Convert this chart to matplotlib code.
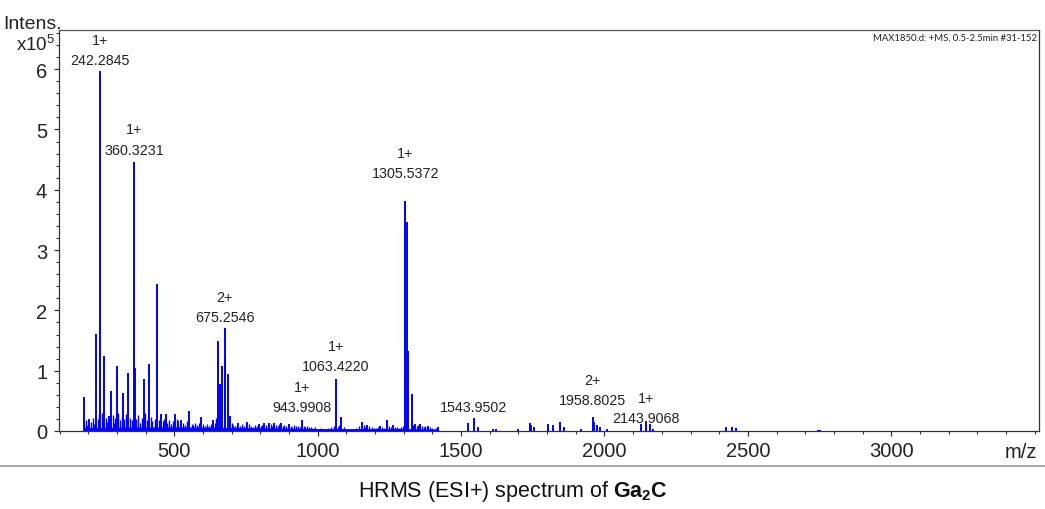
#!/usr/bin/env python

import matplotlib
matplotlib.use('Agg')
import matplotlib.pyplot as plt
from matplotlib.lines import Line2D
from matplotlib.ticker import MultipleLocator

plt.rcParams['font.family'] = ['Liberation Sans', 'DejaVu Sans']
plt.rcParams['mathtext.fontset'] = 'custom'
plt.rcParams['mathtext.rm'] = 'Liberation Sans'
plt.rcParams['mathtext.bf'] = 'Liberation Sans:bold'

# main peaks: m/z and intensity (x10^5)
peak_mz = [185, 204, 227, 242.2845, 256, 271, 279, 300, 321, 340, 360.3231, 363,
           394, 412, 439, 453, 470, 502, 514, 525, 552, 593, 636, 653, 659, 666,
           675.2546, 678, 686, 693, 723, 755, 795, 813, 830, 848, 871, 900,
           943.9908, 1063.4220, 1083, 1153, 1173, 1217, 1243, 1262,
           1305.5372, 1310, 1316, 1328, 1339, 1356, 1386, 1420,
           1525, 1543.9502, 1560, 1612, 1620, 1700, 1740, 1745, 1755, 1804, 1821,
           1845, 1859, 1917, 1958.8025, 1965, 1973, 1985, 2008, 2126, 2143.9068,
           2158, 2168, 2422, 2445, 2459, 2744, 2750]
peak_int = [0.56, 0.20, 1.61, 5.97, 1.24, 0.25, 0.66, 1.07, 0.63, 0.96, 4.46, 1.04,
            0.86, 1.11, 2.44, 0.28, 0.28, 0.29, 0.17, 0.19, 0.33, 0.23, 0.19, 1.49, 0.78, 1.08,
            1.70, 1.22, 0.95, 0.25, 0.14, 0.15, 0.11, 0.13, 0.13, 0.14, 0.13, 0.11,
            0.19, 0.87, 0.24, 0.15, 0.10, 0.08, 0.18, 0.10,
            3.81, 3.46, 1.33, 0.61, 0.12, 0.12, 0.08, 0.06,
            0.13, 0.21, 0.07, 0.04, 0.04, 0.04, 0.13, 0.10, 0.06, 0.11, 0.10,
            0.15, 0.06, 0.04, 0.24, 0.15, 0.10, 0.06, 0.03, 0.11, 0.17,
            0.11, 0.04, 0.06, 0.07, 0.05, 0.02, 0.02]

# low-level noise spikes
grass_mz = [186, 192, 197, 211, 216, 221, 233, 237, 249, 252, 262, 266, 274, 285, 290,
            295, 305, 310, 316, 326, 331, 336, 345, 352, 368, 374, 380, 386, 399, 404,
            418, 424, 431, 446, 459, 464, 476, 482, 489, 495, 508, 520, 531, 538, 545,
            560, 566, 573, 580, 587, 600, 607, 614, 622, 629, 643, 647, 700, 706, 712,
            717, 730, 737, 743, 749, 762, 768, 775, 782, 788, 801, 807, 820, 826, 837,
            842, 855, 861, 866, 878, 884, 890, 906, 912, 918, 925, 931, 937, 951, 957,
            963, 970, 977, 985, 992, 1005, 1012, 1022, 1035, 1048, 1056, 1070, 1076,
            1092, 1100, 1120, 1135, 1145, 1160, 1166, 1180, 1188, 1196, 1205, 1211,
            1224, 1230, 1250, 1256, 1270, 1277, 1284, 1292, 1298, 1334, 1346, 1351,
            1362, 1369, 1375, 1381, 1392, 1399, 1406, 1413]
grass_int = [0.12, 0.18, 0.10, 0.15, 0.22, 0.12, 0.20, 0.28, 0.30, 0.18, 0.22, 0.15, 0.20, 0.26, 0.14,
             0.22, 0.30, 0.18, 0.24, 0.20, 0.28, 0.16, 0.22, 0.18, 0.20, 0.26, 0.14, 0.22, 0.30, 0.18,
             0.24, 0.16, 0.20, 0.18, 0.16, 0.20, 0.14, 0.18, 0.12, 0.16, 0.20, 0.12, 0.14, 0.10, 0.16,
             0.12, 0.10, 0.14, 0.10, 0.13, 0.12, 0.09, 0.11, 0.09, 0.12, 0.14, 0.22, 0.14, 0.10, 0.08,
             0.10, 0.09, 0.12, 0.08, 0.10, 0.11, 0.08, 0.07, 0.10, 0.08, 0.09, 0.10, 0.10, 0.08, 0.11,
             0.09, 0.10, 0.08, 0.11, 0.09, 0.10, 0.08, 0.09, 0.07, 0.10, 0.08, 0.09, 0.07, 0.08, 0.07,
             0.09, 0.06, 0.07, 0.05, 0.06, 0.04, 0.05, 0.04, 0.05, 0.06, 0.08, 0.07, 0.10,
             0.06, 0.04, 0.04, 0.05, 0.08, 0.10, 0.07, 0.08, 0.06, 0.05, 0.05, 0.07,
             0.06, 0.05, 0.08, 0.06, 0.07, 0.06, 0.05, 0.06, 0.08, 0.10, 0.09, 0.10,
             0.08, 0.07, 0.09, 0.06, 0.07, 0.05, 0.04, 0.05]

# dense baseline band
band_mz = [182, 186, 500, 700, 1000, 1300, 1420, 1425]
band_int = [0.0, 0.06, 0.07, 0.06, 0.04, 0.04, 0.03, 0.0]

# peak labels
label_mz = [242.2845, 360.3231, 675.2546, 943.9908, 1063.4220, 1305.5372,
            1543.9502, 1958.8025, 2143.9068]
label_charge = ['1+', '1+', '2+', '1+', '1+', '1+', '', '2+', '1+']

x_ticks = [500, 1000, 1500, 2000, 2500, 3000]

info_text = 'MAX1850.d: +MS, 0.5-2.5min #31-152'
caption = r'HRMS (ESI+) spectrum of $\mathbf{Ga_2C}$'

blue = '#0000ff'

fig = plt.figure(figsize=(10.45, 5.10), dpi=100)
ax = fig.add_axes([59 / 1045, 78 / 510, 980 / 1045, 401 / 510])

ax.fill_between(band_mz, 0, band_int, color=blue, lw=0)
ax.vlines(grass_mz, 0, grass_int, color=blue, lw=1.0)
ax.vlines(peak_mz, 0, peak_int, color=blue, lw=1.4)

ax.set_xlim(98, 3515)
ax.set_ylim(0, 6.65)

ax.set_xticks(x_ticks)
ax.xaxis.set_minor_locator(MultipleLocator(100))
ax.yaxis.set_major_locator(MultipleLocator(1))
ax.yaxis.set_minor_locator(MultipleLocator(0.2))
ax.tick_params(axis='both', which='major', labelsize=14.5, length=3.5, width=0.9,
               color='#333333', labelcolor='#222222')
ax.tick_params(axis='both', which='minor', length=2.2, width=0.8, color='#333333')
ax.tick_params(axis='x', which='major', pad=4)
ax.tick_params(axis='y', which='major', pad=5)

for s in ax.spines.values():
    s.set_linewidth(0.9)
    s.set_color('#333333')
ax.spines['top'].set_color('#555555')

# peak annotations
lookup = dict(zip(peak_mz, peak_int))
gaps = [3, 4, 3, 4, 4, 15, 3, 7, -3]
for mz, ch, g in zip(label_mz, label_charge, gaps):
    h = lookup[mz]
    ax.annotate('%.4f' % mz, (mz, h), xytext=(0, g), textcoords='offset points',
                ha='center', va='bottom', fontsize=10.3, color='#222222')
    if ch:
        ax.annotate(ch, (mz, h), xytext=(0, g + 14.5), textcoords='offset points',
                    ha='center', va='bottom', fontsize=10.3, color='#222222')

ax.text(0.998, 0.993, info_text, transform=ax.transAxes, ha='right', va='top',
        fontsize=6.8, family=['Lato', 'DejaVu Sans'], color='#222222')

fig.text(62 / 1045, 1 - 29 / 510, 'Intens.', ha='right', va='baseline',
         fontsize=14, color='#222222')
fig.text(55 / 1045, 1 - 45 / 510, r'x10$^5$', ha='right', va='center',
         fontsize=13.5, color='#222222')
ax.text(0.998, -0.027, 'm/z', transform=ax.transAxes, ha='right', va='top',
        fontsize=14.5, color='#222222')

fig.add_artist(Line2D([0, 1], [1 - 467 / 510] * 2, transform=fig.transFigure,
                      color='#999999', lw=1.2))
fig.text(0.491, 1 - 492 / 510, caption, ha='center', va='center', fontsize=15.5,
         color='#111111')

fig.savefig('out.png', dpi=100)
